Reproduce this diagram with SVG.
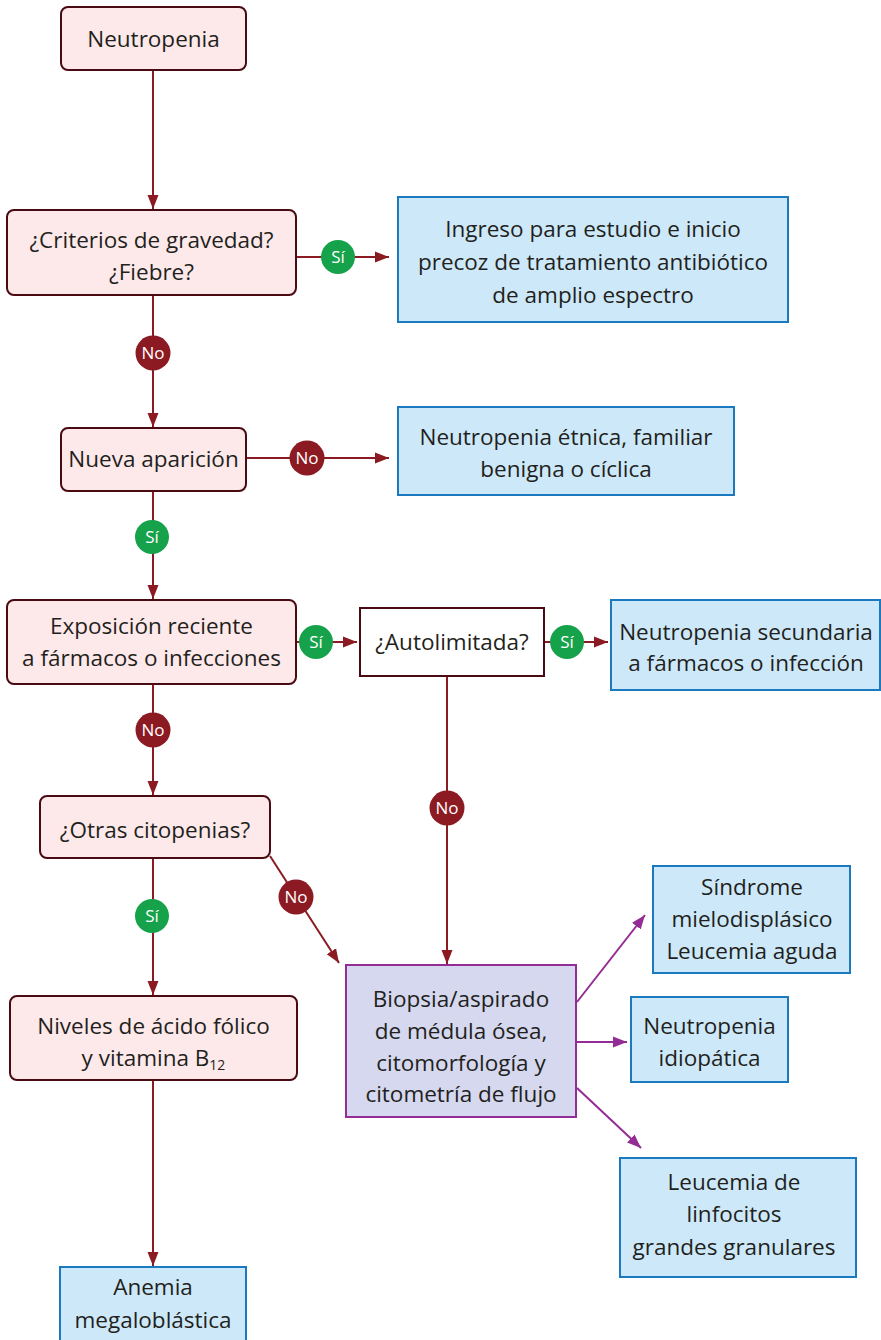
<svg xmlns="http://www.w3.org/2000/svg" width="881" height="1340" viewBox="0 0 881 1340">
<defs>
<style>
.q{fill:#fde9ea;stroke:#4a0a12;stroke-width:2}
.w{fill:#ffffff;stroke:#4a0a12;stroke-width:2}
.b{fill:#cde9f9;stroke:#1b79c0;stroke-width:2}
.p{fill:#d5d8ee;stroke:#932c94;stroke-width:2}
.t{font-family:"Open Sans","Lato",sans-serif;font-size:22.5px;fill:#231f20;text-anchor:middle}
.c{stroke:#8b1a23;stroke-width:2;fill:none}
.cp{stroke:#932c94;stroke-width:2;fill:none}
.bt{font-family:"Open Sans","Lato",sans-serif;font-size:17px;fill:#ffffff;text-anchor:middle;font-weight:500}
.gs{fill:#16a24a}
.rn{fill:#8b1a23}
</style>
<marker id="ar" markerUnits="userSpaceOnUse" markerWidth="14" markerHeight="12" refX="14" refY="6" orient="auto"><path d="M0,0.5 L14,6 L0,11.5 z" fill="#8b1a23"/></marker>
<marker id="ap" markerUnits="userSpaceOnUse" markerWidth="14" markerHeight="12" refX="14" refY="6" orient="auto"><path d="M0,0.5 L14,6 L0,11.5 z" fill="#932c94"/></marker>
</defs>
<g id="connectors">
<line class="c" x1="153" y1="70" x2="153" y2="209" marker-end="url(#ar)"/>
<line class="c" x1="296" y1="257" x2="389" y2="257" marker-end="url(#ar)"/>
<line class="c" x1="153" y1="295" x2="153" y2="427" marker-end="url(#ar)"/>
<line class="c" x1="246" y1="458" x2="389" y2="458" marker-end="url(#ar)"/>
<line class="c" x1="153" y1="491" x2="153" y2="599" marker-end="url(#ar)"/>
<line class="c" x1="296" y1="642" x2="357" y2="642" marker-end="url(#ar)"/>
<line class="c" x1="544" y1="642" x2="608" y2="642" marker-end="url(#ar)"/>
<line class="c" x1="447" y1="676" x2="447" y2="964" marker-end="url(#ar)"/>
<line class="c" x1="153" y1="684" x2="153" y2="795" marker-end="url(#ar)"/>
<line class="c" x1="153" y1="858" x2="153" y2="995" marker-end="url(#ar)"/>
<line class="c" x1="270" y1="856" x2="339" y2="963" marker-end="url(#ar)"/>
<line class="c" x1="153" y1="1080" x2="153" y2="1266" marker-end="url(#ar)"/>
<line class="cp" x1="577" y1="1002" x2="645" y2="915" marker-end="url(#ap)"/>
<line class="cp" x1="577" y1="1042" x2="627" y2="1042" marker-end="url(#ap)"/>
<line class="cp" x1="577" y1="1088" x2="641" y2="1148" marker-end="url(#ap)"/>
<g id="badges">
<circle class="gs" cx="338" cy="257" r="17"/><text class="bt" x="338" y="263">Sí</text>
<circle class="rn" cx="153" cy="353" r="17.5"/><text class="bt" x="153" y="359">No</text>
<circle class="rn" cx="307" cy="458" r="17.5"/><text class="bt" x="307" y="464">No</text>
<circle class="gs" cx="152" cy="537" r="17"/><text class="bt" x="152" y="543">Sí</text>
<circle class="gs" cx="316" cy="642" r="17"/><text class="bt" x="316" y="648">Sí</text>
<circle class="gs" cx="567" cy="642" r="17"/><text class="bt" x="567" y="648">Sí</text>
<circle class="rn" cx="153" cy="730" r="17.5"/><text class="bt" x="153" y="736">No</text>
<circle class="rn" cx="447" cy="808" r="17.5"/><text class="bt" x="447" y="814">No</text>
<circle class="gs" cx="152" cy="916" r="17"/><text class="bt" x="152" y="922">Sí</text>
<circle class="rn" cx="296" cy="897" r="17.5"/><text class="bt" x="296" y="903">No</text>
</g>
</g>
<g id="n1"><rect class="q" x="61" y="7" width="185" height="63" rx="7"/><text class="t" x="153.5" y="47">Neutropenia</text></g>
<g id="n2"><rect class="q" x="7" y="210" width="289" height="85" rx="7"/><text class="t" x="151.5" y="248">¿Criterios de gravedad?</text><text class="t" x="151.5" y="280">¿Fiebre?</text></g>
<g id="n3"><rect class="b" x="398" y="197" width="390" height="125"/><text class="t" x="593" y="237">Ingreso para estudio e inicio</text><text class="t" x="593" y="270">precoz de tratamiento antibiótico</text><text class="t" x="593" y="303">de amplio espectro</text></g>
<g id="n4"><rect class="q" x="61" y="428" width="185" height="63" rx="7"/><text class="t" x="153.5" y="467">Nueva aparición</text></g>
<g id="n5"><rect class="b" x="398" y="407" width="336" height="88"/><text class="t" x="566" y="445">Neutropenia étnica, familiar</text><text class="t" x="566" y="477">benigna o cíclica</text></g>
<g id="n6"><rect class="q" x="7" y="600" width="289" height="84" rx="7"/><text class="t" x="151.5" y="634">Exposición reciente</text><text class="t" x="151.5" y="666">a fármacos o infecciones</text></g>
<g id="n7"><rect class="w" x="360" y="608" width="184" height="68"/><text class="t" x="452" y="650">¿Autolimitada?</text></g>
<g id="n8"><rect class="b" x="611" y="600" width="269" height="90"/><text class="t" x="746" y="640">Neutropenia secundaria</text><text class="t" x="746" y="671">a fármacos o infección</text></g>
<g id="n9"><rect class="q" x="40" y="796" width="230" height="62" rx="7"/><text class="t" x="155" y="838">¿Otras citopenias?</text></g>
<g id="n10"><rect class="q" x="10" y="996" width="287" height="84" rx="7"/><text class="t" x="153.5" y="1034">Niveles de ácido fólico</text><text class="t" x="153.5" y="1066">y vitamina B<tspan font-size="14px" dy="4">12</tspan></text></g>
<g id="n11"><rect class="b" x="60" y="1267" width="186" height="80"/><text class="t" x="153" y="1295">Anemia</text><text class="t" x="153" y="1328">megaloblástica</text></g>
<g id="n12"><rect class="p" x="346" y="965" width="230" height="152"/><text class="t" x="461" y="1007">Biopsia/aspirado</text><text class="t" x="461" y="1039">de médula ósea,</text><text class="t" x="461" y="1071">citomorfología y</text><text class="t" x="461" y="1102">citometría de flujo</text></g>
<g id="n13"><rect class="b" x="653" y="866" width="197" height="107"/><text class="t" x="752" y="895">Síndrome</text><text class="t" x="752" y="927">mielodisplásico</text><text class="t" x="752" y="959">Leucemia aguda</text></g>
<g id="n14"><rect class="b" x="631" y="997" width="157" height="85"/><text class="t" x="709.5" y="1034">Neutropenia</text><text class="t" x="709.5" y="1066">idiopática</text></g>
<g id="n15"><rect class="b" x="620" y="1158" width="236" height="119"/><text class="t" x="734" y="1190">Leucemia de</text><text class="t" x="734" y="1222">linfocitos</text><text class="t" x="734" y="1255">grandes granulares</text></g>
</svg>
